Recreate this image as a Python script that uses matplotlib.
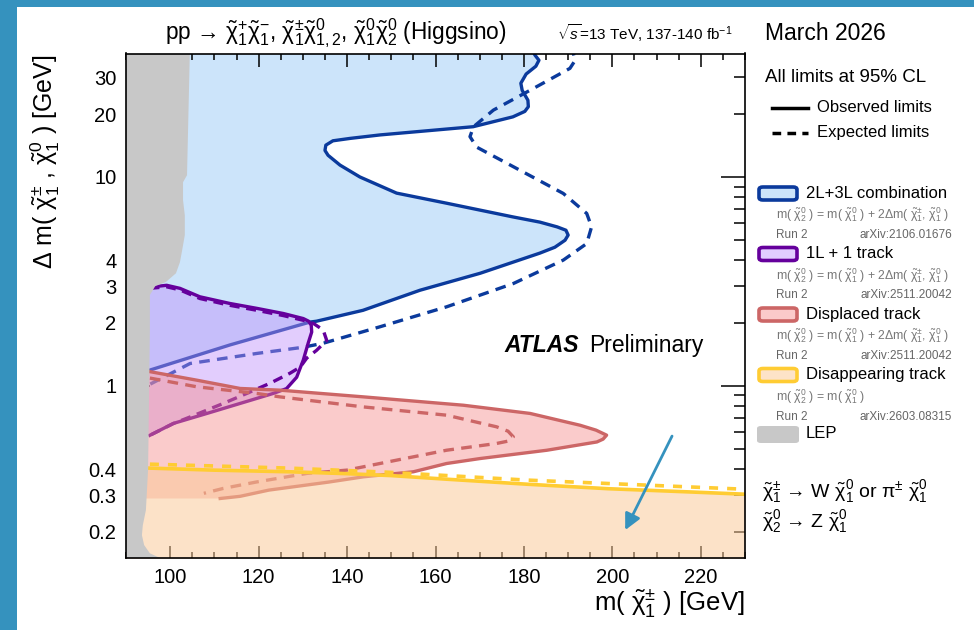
import matplotlib
matplotlib.use('Agg')
import matplotlib.pyplot as plt
from matplotlib.patches import FancyBboxPatch, Rectangle
from matplotlib.lines import Line2D
from matplotlib.ticker import FixedLocator, FuncFormatter, MultipleLocator

plt.rcParams['font.family'] = ['Liberation Sans', 'DejaVu Sans']
plt.rcParams['mathtext.fontset'] = 'custom'
plt.rcParams['mathtext.rm'] = 'Liberation Sans'
plt.rcParams['mathtext.it'] = 'Liberation Sans:italic'
plt.rcParams['mathtext.bf'] = 'Liberation Sans:bold'
plt.rcParams['mathtext.sf'] = 'Liberation Sans'

# ---- limit contours: m(chi1+-) [GeV] vs delta m [GeV] ----
# 2L+3L combination
comb_obs_x = [95.4, 113.5, 131.6, 133.1, 143.6, 156.5, 170.1, 183.6, 187.0, 189.3, 190.0,
              189.5, 187.5, 183.6, 177.5, 162.5, 151.2, 142.9, 138.4, 135.7, 135.0, 135.2,
              136.8, 140.7, 147.5, 168.5, 177.5, 180.2, 181.0, 180.9, 179.6, 179.3, 180.5,
              182.7, 183.4, 182.5, 180.9]
comb_obs_y = [1.19, 1.57, 2.02, 2.04, 2.30, 2.87, 3.46, 4.32, 4.61, 4.98, 5.27,
              5.56, 5.77, 6.08, 6.44, 7.49, 8.37, 10.0, 11.4, 12.7, 13.4, 14.2,
              14.9, 15.3, 15.9, 17.4, 19.4, 20.6, 21.7, 23.3, 26.0, 28.1, 31.1,
              33.9, 36.2, 38.3, 45.0]
comb_exp_x = [95.5, 104.5, 119.6, 130.0, 134.6, 147.5, 162.5, 177.6, 188.9, 194.2, 195.3,
              194.2, 188.9, 177.6, 169.3, 167.8, 168.6, 173.1, 182.1, 190.4, 191.6, 190.4]
comb_exp_y = [1.02, 1.28, 1.43, 1.53, 1.60, 1.92, 2.39, 3.09, 4.00, 4.80, 5.77,
              6.69, 8.34, 11.2, 13.9, 15.6, 17.4, 20.9, 26.5, 33.1, 36.2, 45.0]

# 1L + 1 track
trk_obs_x = [95.3, 99.2, 102.2, 106.7, 113.5, 119.6, 125.6, 130.1, 131.3, 131.9, 132.0,
             131.2, 130.1, 128.6, 126.3, 123.3, 115.8, 108.3, 100.7, 95.4]
trk_obs_y = [2.97, 3.03, 2.93, 2.67, 2.48, 2.35, 2.22, 2.10, 2.04, 1.95, 1.81,
             1.60, 1.33, 1.10, 0.97, 0.92, 0.824, 0.738, 0.661, 0.58]
trk_exp_x = [95.3, 99.2, 102.2, 106.7, 113.5, 119.6, 125.6, 130.1, 132.4, 134.6, 135.4,
             133.1, 130.9, 129.4, 127.1, 122.6, 117.3, 112.0, 104.5, 100.7, 95.4]
trk_exp_y = [2.93, 2.98, 2.88, 2.62, 2.43, 2.30, 2.17, 2.06, 1.99, 1.85, 1.65,
             1.48, 1.36, 1.23, 1.15, 1.03, 0.92, 0.824, 0.71, 0.66, 0.58]

# Displaced track
dsp_obs_x = [95.4, 106.0, 115.8, 124.8, 143.7, 166.3, 181.4, 192.7, 196.3, 198.7, 197.9,
             196.5, 185.2, 170.1, 162.5, 155.0, 143.7, 135.7, 122.3, 115.8, 111.3]
dsp_obs_y = [1.17, 1.065, 0.972, 0.954, 0.886, 0.808, 0.738, 0.648, 0.614, 0.581, 0.556,
             0.539, 0.492, 0.449, 0.425, 0.388, 0.367, 0.346, 0.317, 0.296, 0.289]
dsp_exp_x = [95.4, 106.0, 119.6, 124.8, 143.7, 162.5, 173.8, 176.4, 177.6, 176.4, 173.8,
             162.5, 151.2, 139.9, 130.9, 119.6, 112.0, 107.6]
dsp_exp_y = [1.09, 0.99, 0.92, 0.886, 0.793, 0.724, 0.637, 0.607, 0.570, 0.544, 0.530,
             0.492, 0.441, 0.395, 0.381, 0.347, 0.323, 0.306]
dsp_floor = 0.289

# Disappearing track
dis_obs_x = [95.4, 110.0, 127.0, 140.0, 150.0, 163.0, 181.0, 199.0, 217.0, 230.0]
dis_obs_y = [0.404, 0.395, 0.388, 0.380, 0.372, 0.357, 0.338, 0.322, 0.311, 0.303]
dis_exp_x = [95.4, 126.9, 149.3, 180.7, 207.6, 230.0]
dis_exp_y = [0.422, 0.404, 0.386, 0.354, 0.335, 0.320]

# LEP
lep_x = [104.5, 103.8, 102.9, 102.9, 103.3, 103.3, 102.7, 102.2, 101.3, 99.0, 96.6,
         95.4, 95.4, 95.2, 95.0, 94.5, 93.8, 93.6, 94.1, 95.4, 97.7, 99.0]
lep_y = [45.0, 10.2, 9.44, 7.74, 6.56, 5.27, 4.46, 3.91, 3.46, 3.14, 3.0,
         2.72, 1.85, 0.854, 0.40, 0.254, 0.215, 0.193, 0.173, 0.158, 0.15, 0.14]

arrow_from = (213.5, 0.575)
arrow_to = (202.9, 0.204)

y_major = [1, 10]
y_minor = [0.2, 0.3, 0.4, 0.5, 0.6, 0.7, 0.8, 0.9, 2, 3, 4, 5, 6, 7, 8, 9, 20, 30]
y_labels = ['0.2', '0.3', '0.4', '1', '2', '3', '4', '10', '20', '30']


def chi(sup, sub):
    return r'\tilde{\mathrm{\chi}}^{' + sup + '}_{' + sub + '}'


C1PM, C10, C20 = chi(r'\pm', '1'), chi('0', '1'), chi('0', '2')

entry_names = ['2L+3L combination', '1L + 1 track', 'Displaced track', 'Disappearing track']
entry_arxiv = ['arXiv:2106.01676', 'arXiv:2511.20042', 'arXiv:2511.20042', 'arXiv:2603.08315']
MASS_FULL = f'm( ${C20}$ ) = m( ${C10}$ ) + 2$\\Delta$m( ${C1PM}$, ${C10}$ )'
MASS_DEG = f'm( ${C20}$ ) = m( ${C10}$ )'
entry_mass = [MASS_FULL, MASS_FULL, MASS_FULL, MASS_DEG]

BLUE, PURPLE, RED, GOLD = '#0b3a9c', '#65009c', '#cc6666', '#ffcc33'
entry_edge = [BLUE, PURPLE, RED, GOLD]
entry_face = ['#cce4fa', '#e1cdff', '#fbcaca', '#fde3c8']
FRAME = '#3592be'

W, H = 974, 630
fig = plt.figure(figsize=(W / 100, H / 100), dpi=100)


def fpos(px, py):
    return px / W, 1 - py / H


ax = fig.add_axes([126 / W, 1 - 558 / H, (745 - 126) / W, (558 - 53.5) / H])
ax.set_yscale('log')
ax.set_xlim(90, 230)
ax.set_ylim(0.15, 39)

# 2L+3L
ax.fill(comb_obs_x + [90, 90], comb_obs_y + [comb_obs_y[-1], comb_obs_y[0]],
        color='#cce4fa', lw=0, zorder=1)
ax.plot(comb_obs_x, comb_obs_y, color=BLUE, lw=2.4, zorder=2)
ax.plot(comb_exp_x, comb_exp_y, color=BLUE, lw=2.4, ls=(0, (3.2, 2.2)), zorder=2)

# 1L + 1 track
ax.fill(trk_obs_x + [90, 90], trk_obs_y + [trk_obs_y[-1], trk_obs_y[0]],
        color=(191 / 255, 144 / 255, 251 / 255), alpha=0.45, lw=0, zorder=3)
ax.plot(trk_exp_x, trk_exp_y, color=PURPLE, lw=2.4, ls=(0, (3.0, 2.0)), zorder=4)
ax.plot(trk_obs_x, trk_obs_y, color=PURPLE, lw=2.4, zorder=4)

# Displaced track
ax.fill(dsp_obs_x + [90, 90], dsp_obs_y + [dsp_floor, dsp_obs_y[0]],
        color=(245 / 255, 140 / 255, 140 / 255), alpha=0.45, lw=0, zorder=5)
ax.plot(dsp_obs_x, dsp_obs_y, color=RED, lw=2.4, zorder=6)
ax.plot(dsp_exp_x, dsp_exp_y, color=RED, lw=2.4, ls=(0, (3.2, 2.2)), zorder=6)

# Disappearing track
ax.fill_between([90] + dis_obs_x, [dis_obs_y[0]] + dis_obs_y, 0.1,
                color=(251 / 255, 202 / 255, 151 / 255), alpha=0.53, lw=0, zorder=7)
ax.plot(dis_obs_x, dis_obs_y, color=GOLD, lw=2.6, zorder=8)
ax.plot(dis_exp_x, dis_exp_y, color=GOLD, lw=2.6, ls=(0, (2.5, 2.5)), zorder=8)

# LEP
ax.fill(lep_x + [85, 85], lep_y + [0.1, 45], color='#c8c8c8', lw=0, zorder=9)

ax.annotate('', xy=arrow_to, xytext=arrow_from, zorder=10,
            arrowprops=dict(arrowstyle='-|>', color=FRAME, lw=2, mutation_scale=24,
                            shrinkA=0, shrinkB=0))

# axes styling
for s in ax.spines.values():
    s.set_linewidth(1.2)
    s.set_zorder(12)
ax.xaxis.set_major_locator(MultipleLocator(20))
ax.xaxis.set_minor_locator(MultipleLocator(5))
ax.yaxis.set_major_locator(FixedLocator(y_major))
ax.yaxis.set_minor_locator(FixedLocator(y_minor))
ylab = FuncFormatter(lambda v, pos: f'{v:g}' if f'{v:g}' in y_labels else '')
ax.yaxis.set_major_formatter(ylab)
ax.yaxis.set_minor_formatter(ylab)
ax.tick_params(which='both', direction='in', top=True, right=True, labelsize=14.5,
               width=1.1, colors='black', zorder=12)
ax.tick_params(axis='x', which='major', length=9, pad=7)
ax.tick_params(axis='x', which='minor', length=4.5)
ax.tick_params(axis='y', which='major', length=17, pad=7)
ax.tick_params(axis='y', which='minor', length=8, pad=7)
for t in ax.get_xticklines() + ax.get_yticklines():
    t.set_zorder(12)

# labels
fig.text(*fpos(45, 55), f'$\\Delta$ m( ${C1PM}$ , ${C10}$ ) [GeV]',
         rotation=90, ha='center', va='top', fontsize=18)
fig.text(*fpos(745, 603), f'm( ${C1PM}$ ) [GeV]', ha='right', va='center', fontsize=18.5)

fig.text(*fpos(165, 33), 'pp \u2192 $' + chi('+', '1') + chi('-', '1') + '$, $'
         + C1PM + chi('0', '1,2') + '$, $' + C10 + C20 + '$ (Higgsino)',
         ha='left', va='center', fontsize=16.3)
fig.text(*fpos(557, 33), r'$\sqrt{s}$=13 TeV, 137-140 fb$^{-1}$', ha='left', va='center', fontsize=11)
fig.text(*fpos(765, 33), 'March 2026', ha='left', va='center', fontsize=16.5)
fig.text(*fpos(765, 78), 'All limits at 95% CL', ha='left', va='center', fontsize=13.5)

fig.add_artist(Line2D([772 / W, 808 / W], [1 - 108 / H] * 2, color='black', lw=2.5))
fig.add_artist(Line2D([772 / W, 808 / W], [1 - 133 / H] * 2, color='black', lw=2.5, ls=(0, (2.5, 1.8))))
fig.text(*fpos(817, 108), 'Observed limits', ha='left', va='center', fontsize=12)
fig.text(*fpos(817, 133), 'Expected limits', ha='left', va='center', fontsize=12)

fig.text(*fpos(504, 345), 'ATLAS', ha='left', va='center', fontsize=16.5, weight='bold', style='italic')
fig.text(*fpos(589, 345), 'Preliminary', ha='left', va='center', fontsize=16.5)

# region legend
for i, name in enumerate(entry_names):
    yc = 193 + i * 60.5
    x0, y0 = fpos(759, yc + 7)
    fig.patches.append(FancyBboxPatch((x0, y0), 38 / W, 13 / H, boxstyle='round,pad=0,rounding_size=0.004',
                                      transform=fig.transFigure, facecolor=entry_face[i],
                                      edgecolor=entry_edge[i], lw=2.6))
    fig.text(*fpos(806, yc), name, ha='left', va='center', fontsize=12)
    fig.text(*fpos(776, yc + 22), entry_mass[i], ha='left', va='center', fontsize=8.8, color='#777777')
    fig.text(*fpos(776, yc + 42), 'Run 2', ha='left', va='center', fontsize=8.5, color='#666666')
    fig.text(*fpos(952, yc + 42), entry_arxiv[i], ha='right', va='center', fontsize=8.5, color='#666666')

x0, y0 = fpos(757, 443)
fig.patches.append(FancyBboxPatch((x0, y0), 42 / W, 17 / H, boxstyle='round,pad=0,rounding_size=0.004',
                                  transform=fig.transFigure, facecolor='#c8c8c8', edgecolor='none'))
fig.text(*fpos(806, 434), 'LEP', ha='left', va='center', fontsize=12)

fig.text(*fpos(762, 492), f'${C1PM}$ \u2192 W ${C10}$ or $\\mathrm{{\\pi}}^{{\\pm}}$ ${C10}$',
         ha='left', va='center', fontsize=14)
fig.text(*fpos(762, 522), f'${C20}$ \u2192 Z ${C10}$', ha='left', va='center', fontsize=14)

# blue page frame
fig.patches.append(Rectangle((0, 0), 17 / W, 1, transform=fig.transFigure, color=FRAME, lw=0))
fig.patches.append(Rectangle((0, 1 - 7 / H), 1, 7 / H, transform=fig.transFigure, color=FRAME, lw=0))

fig.savefig('out.png', dpi=100)
